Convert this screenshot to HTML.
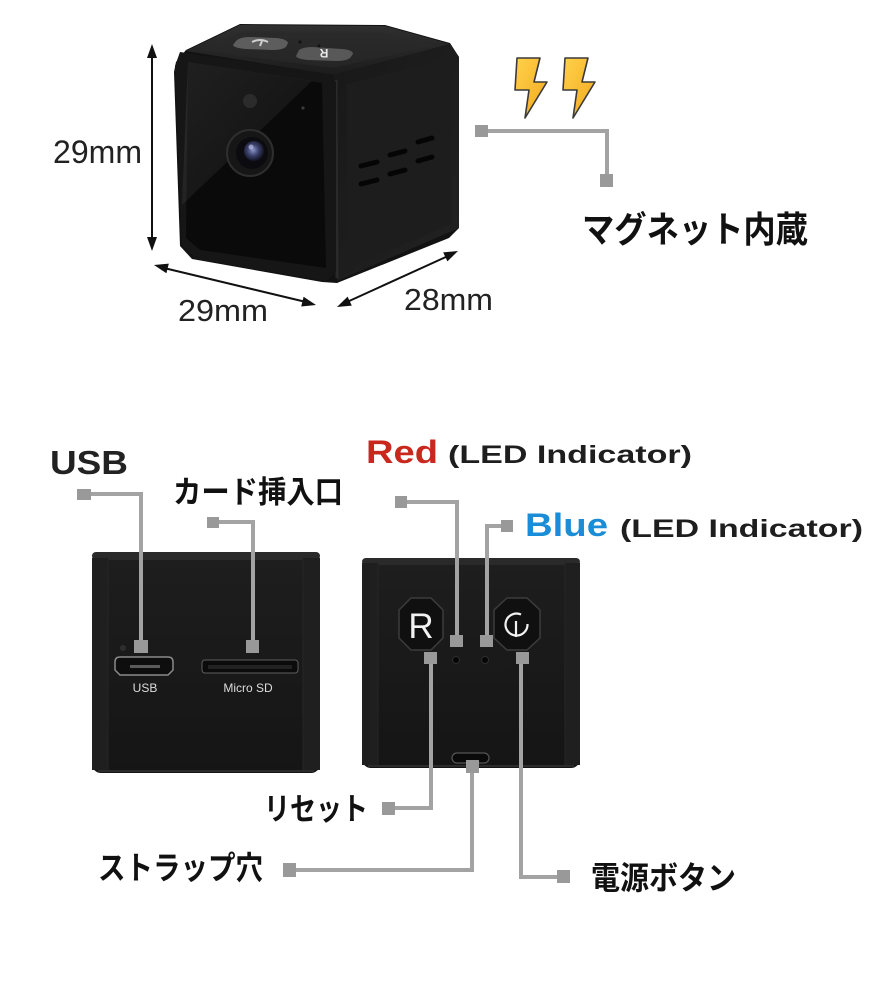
<!DOCTYPE html>
<html>
<head>
<meta charset="utf-8">
<style>
html,body{margin:0;padding:0;background:#fff;}
svg{display:block;}
.lat{font-family:"Liberation Sans",sans-serif;}
.jp{font-family:"Liberation Sans","Noto Sans CJK JP",sans-serif;font-weight:bold;fill:#111;}
</style>
</head>
<body>
<svg width="871" height="1000" viewBox="0 0 871 1000" xmlns="http://www.w3.org/2000/svg">
<defs>
  <linearGradient id="topg" x1="0" y1="0" x2="0" y2="1">
    <stop offset="0" stop-color="#303030"/>
    <stop offset="1" stop-color="#1c1c1c"/>
  </linearGradient>
  <linearGradient id="rightg" x1="0" y1="0" x2="1" y2="1">
    <stop offset="0" stop-color="#181818"/>
    <stop offset="1" stop-color="#222"/>
  </linearGradient>
  <linearGradient id="gloss" x1="0" y1="0" x2="1" y2="1">
    <stop offset="0" stop-color="#fff" stop-opacity="0.09"/>
    <stop offset="1" stop-color="#fff" stop-opacity="0.02"/>
  </linearGradient>
  <radialGradient id="lens" cx="0.45" cy="0.45" r="0.6">
    <stop offset="0" stop-color="#8d96c8"/>
    <stop offset="0.45" stop-color="#3d4470"/>
    <stop offset="1" stop-color="#0b0b14"/>
  </radialGradient>
  <linearGradient id="bodyg" x1="0" y1="0" x2="0" y2="1">
    <stop offset="0" stop-color="#1e1e1e"/>
    <stop offset="1" stop-color="#151515"/>
  </linearGradient>
  <linearGradient id="bolt" x1="0" y1="0" x2="1" y2="1">
    <stop offset="0" stop-color="#ffd24a"/>
    <stop offset="1" stop-color="#f2a81e"/>
  </linearGradient>
</defs>

<!-- ===== TOP CAMERA CUBE ===== -->
<polygon points="176,62 186,50 240,24 385,25 450,43 459,57 459,228 449,238 337,283 322,282 192,259 180,246 174,72" fill="#121212"/>
<polygon points="186,51 240,25 385,26 450,44 333,75" fill="url(#topg)"/>
<polygon points="200,50 244,31 380,32 432,46 332,68" fill="#2a2a2a" opacity="0.6"/>
<path d="M236,41 Q240,37 250,37 L276,38 Q287,39 288,43 L286,47 Q282,50 272,50 L246,49 Q234,48 233,45 Z" fill="#5d5d5d"/>
<path d="M252,42 Q260,38 268,42" fill="none" stroke="#cfcfcf" stroke-width="2"/>
<line x1="262" y1="41" x2="260" y2="46" stroke="#cfcfcf" stroke-width="2"/>
<path d="M299,50 Q303,47 312,47 L342,49 Q353,50 353,54 L350,58 Q346,61 336,61 L308,60 Q297,59 296,56 Z" fill="#585858"/>
<text x="324" y="59" class="lat" font-size="12" font-weight="bold" fill="#e8e8e8" transform="rotate(180 324 54)" text-anchor="middle">R</text>
<circle cx="300" cy="42" r="1.5" fill="#111"/>
<circle cx="319" cy="46" r="1.5" fill="#111"/>
<polygon points="333,75 450,44 459,57 459,228 337,281" fill="url(#rightg)"/>
<polygon points="347,84 451,57 451,224 347,268" fill="#1d1d1d"/>
<line x1="336" y1="80" x2="337" y2="278" stroke="#2a2a2a" stroke-width="3"/>
<g stroke="#050505" stroke-width="5" stroke-linecap="round">
  <line x1="361" y1="166" x2="377" y2="162"/>
  <line x1="361" y1="184" x2="377" y2="180"/>
  <line x1="390" y1="155" x2="405" y2="151"/>
  <line x1="390" y1="174" x2="405" y2="170"/>
  <line x1="418" y1="142" x2="432" y2="138"/>
  <line x1="418" y1="161" x2="432" y2="157"/>
</g>
<polygon points="180,52 330,74 336,82 336,272 326,281 196,259 182,246 175,66" fill="#161616"/>
<polygon points="188,62 322,83 326,268 200,250 186,238" fill="#0a0a0a"/>
<polygon points="188,62 312,81 182,205" fill="url(#gloss)"/>
<circle cx="250" cy="101" r="7" fill="#2b2b2b"/>
<circle cx="303" cy="108" r="1.6" fill="#3a3a3a"/>
<circle cx="250" cy="153" r="23" fill="#161616" stroke="#2e2e2e" stroke-width="2"/>
<circle cx="252" cy="153" r="16" fill="#0c0c10"/>
<circle cx="254" cy="151" r="10" fill="url(#lens)"/>
<circle cx="251" cy="147" r="2.5" fill="#c8cdf0" opacity="0.6"/>

<g stroke="#111" stroke-width="2" fill="none">
  <line x1="152" y1="55" x2="152" y2="240"/>
  <line x1="164" y1="268" x2="306" y2="302"/>
  <line x1="347" y1="302" x2="448" y2="256"/>
</g>
<g fill="#111">
  <polygon points="152,44 147,58 157,58"/>
  <polygon points="152,251 147,237 157,237"/>
  <polygon points="154,265 166.4,273.3 168.8,263.6"/>
  <polygon points="316,305 301.2,306.5 303.6,296.8"/>
  <polygon points="337,307 351.8,305.6 347.6,296.6"/>
  <polygon points="458,251 447.4,261.4 443.2,252.4"/>
</g>
<text x="53" y="163" class="lat" font-size="32" fill="#222" textLength="89" lengthAdjust="spacingAndGlyphs">29mm</text>
<text x="178" y="321" class="lat" font-size="31" fill="#222" textLength="90" lengthAdjust="spacingAndGlyphs">29mm</text>
<text x="404" y="310" class="lat" font-size="31" fill="#222" textLength="89" lengthAdjust="spacingAndGlyphs">28mm</text>

<polygon points="517,58 540,58 534,82 547,82 525,118 529,90 515,90" fill="url(#bolt)" stroke="#3a3a3a" stroke-width="1.6" stroke-linejoin="round"/>
<polygon points="565,58 588,58 582,82 595,82 573,118 577,90 563,90" fill="url(#bolt)" stroke="#3a3a3a" stroke-width="1.6" stroke-linejoin="round"/>

<g stroke="#a3a3a3" stroke-width="4" fill="none">
  <path d="M486,131 H607 V178"/>
</g>
<rect x="475" y="125" width="13" height="12" fill="#999"/>
<rect x="600" y="174" width="13" height="13" fill="#999"/>
<text x="582" y="242" class="jp" font-size="36" textLength="226" lengthAdjust="spacingAndGlyphs">マグネット内蔵</text>

<!-- ===== BOTTOM LEFT DEVICE ===== -->
<rect x="92" y="552" width="228" height="221" rx="9" fill="url(#bodyg)"/>
<rect x="92" y="552" width="228" height="8" rx="4" fill="#2a2a2a"/>
<rect x="92" y="558" width="16" height="212" fill="#1f1f1f"/>
<rect x="303" y="558" width="17" height="212" fill="#1f1f1f"/>
<line x1="108" y1="560" x2="108" y2="770" stroke="#262626" stroke-width="1"/>
<line x1="303" y1="560" x2="303" y2="770" stroke="#262626" stroke-width="1"/>
<line x1="98" y1="771" x2="314" y2="771" stroke="#333" stroke-width="1.5"/>
<circle cx="123" cy="648" r="3" fill="#2e2e2e"/>
<path d="M120,657 H168 Q173,657 173,662 V670 L168,675 H120 L115,670 V662 Q115,657 120,657 Z" fill="#0e0e0e" stroke="#8a8a8a" stroke-width="1.5"/>
<rect x="130" y="665" width="30" height="3" fill="#5a5a5a"/>
<text x="145" y="692" class="lat" font-size="12" fill="#dcdcdc" text-anchor="middle">USB</text>
<rect x="202" y="660" width="96" height="13" rx="3" fill="#0b0b0b" stroke="#5e5e5e" stroke-width="1"/>
<rect x="208" y="665" width="84" height="4" fill="#222"/>
<text x="248" y="692" class="lat" font-size="12" fill="#dcdcdc" text-anchor="middle">Micro SD</text>

<!-- ===== BOTTOM RIGHT DEVICE ===== -->
<rect x="362" y="558" width="218" height="210" rx="9" fill="url(#bodyg)"/>
<rect x="362" y="558" width="218" height="7" rx="4" fill="#2a2a2a"/>
<rect x="362" y="563" width="16" height="202" fill="#1f1f1f"/>
<rect x="565" y="563" width="15" height="202" fill="#1f1f1f"/>
<line x1="378" y1="565" x2="378" y2="765" stroke="#262626" stroke-width="1"/>
<line x1="565" y1="565" x2="565" y2="765" stroke="#262626" stroke-width="1"/>
<line x1="368" y1="766" x2="574" y2="766" stroke="#333" stroke-width="1.5"/>
<polygon points="411,598 431,598 443,610 443,638 431,650 411,650 399,638 399,610" fill="#101010" stroke="#3c3c3c" stroke-width="1.5"/>
<text x="421" y="638" class="lat" font-size="35" fill="#f2f2f2" text-anchor="middle">R</text>
<polygon points="507,598 527,598 540,610 540,638 527,650 507,650 494,638 494,610" fill="#101010" stroke="#3c3c3c" stroke-width="1.5"/>
<path d="M521,614.5 A11,11 0 1 0 527.5,624" fill="none" stroke="#f2f2f2" stroke-width="2.2"/>
<line x1="516" y1="621" x2="516" y2="637" stroke="#f2f2f2" stroke-width="2.2"/>
<circle cx="456" cy="660" r="3.5" fill="#060606" stroke="#2e2e2e" stroke-width="1"/>
<circle cx="485" cy="660" r="3.5" fill="#060606" stroke="#2e2e2e" stroke-width="1"/>
<rect x="452" y="753" width="37" height="10" rx="5" fill="#0a0a0a" stroke="#555" stroke-width="1.2"/>

<!-- ===== CONNECTORS ===== -->
<g stroke="#a3a3a3" stroke-width="4" fill="none">
  <path d="M89,494 H141 V642"/>
  <path d="M217,522 H253 V642"/>
  <path d="M405,502 H457 V637"/>
  <path d="M503,526 H487 V637"/>
  <path d="M431,662 V808 H393"/>
  <path d="M472,771 V870 H294"/>
  <path d="M521,662 V877 H559"/>
</g>
<g fill="#999">
  <rect x="77" y="489" width="14" height="11"/>
  <rect x="134" y="640" width="14" height="13"/>
  <rect x="207" y="517" width="12" height="11"/>
  <rect x="246" y="640" width="13" height="13"/>
  <rect x="395" y="496" width="12" height="12"/>
  <rect x="450" y="635" width="13" height="12"/>
  <rect x="501" y="520" width="12" height="12"/>
  <rect x="480" y="635" width="13" height="12"/>
  <rect x="424" y="652" width="13" height="12"/>
  <rect x="382" y="802" width="13" height="13"/>
  <rect x="466" y="760" width="13" height="13"/>
  <rect x="283" y="863" width="13" height="14"/>
  <rect x="516" y="652" width="13" height="12"/>
  <rect x="557" y="870" width="13" height="13"/>
</g>

<!-- ===== LABELS ===== -->
<text x="50" y="474" class="lat" font-size="33" font-weight="bold" fill="#222" textLength="78" lengthAdjust="spacingAndGlyphs">USB</text>
<text x="173" y="503" class="jp" font-size="31" textLength="170" lengthAdjust="spacingAndGlyphs">カード挿入口</text>
<text x="366" y="463" class="lat" font-size="32" font-weight="bold" fill="#c9291c" textLength="72" lengthAdjust="spacingAndGlyphs">Red</text>
<text x="448" y="463" class="lat" font-size="25" font-weight="bold" fill="#1e1e1e" textLength="244" lengthAdjust="spacingAndGlyphs">(LED Indicator)</text>
<text x="525" y="536" class="lat" font-size="32" font-weight="bold" fill="#1a8dd6" textLength="83" lengthAdjust="spacingAndGlyphs">Blue</text>
<text x="620" y="537" class="lat" font-size="25" font-weight="bold" fill="#1e1e1e" textLength="243" lengthAdjust="spacingAndGlyphs">(LED Indicator)</text>
<text x="264" y="820" class="jp" font-size="31" textLength="104" lengthAdjust="spacingAndGlyphs">リセット</text>
<text x="98" y="879" class="jp" font-size="32" textLength="165" lengthAdjust="spacingAndGlyphs">ストラップ穴</text>
<text x="591" y="889" class="jp" font-size="32" textLength="145" lengthAdjust="spacingAndGlyphs">電源ボタン</text>
</svg>
</body>
</html>
